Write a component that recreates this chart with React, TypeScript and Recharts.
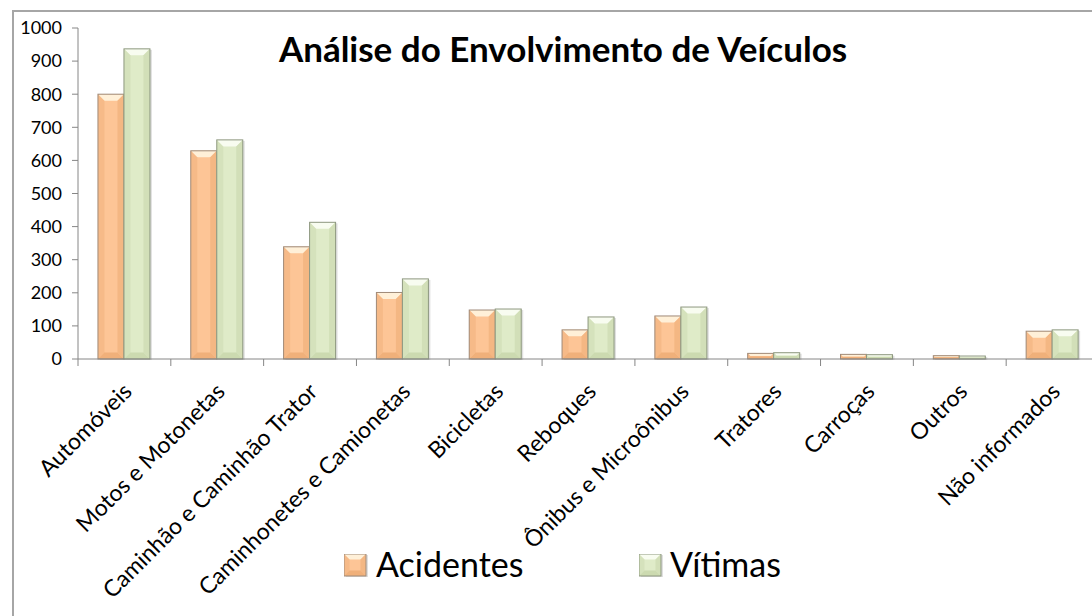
import { Bar, BarChart, Legend, XAxis, YAxis } from "recharts"

const categories = [
  "Automóveis",
  "Motos e Motonetas",
  "Caminhão e Caminhão Trator",
  "Caminhonetes e Camionetas",
  "Bicicletas",
  "Reboques",
  "Ônibus e Microônibus",
  "Tratores",
  "Carroças",
  "Outros",
  "Não informados",
]
const acidentes = [800, 629, 339, 201, 148, 88, 130, 17, 14, 10, 84]
const vitimas = [937, 662, 413, 242, 151, 127, 157, 19, 13, 9, 88]
const yTicks = [0, 100, 200, 300, 400, 500, 600, 700, 800, 900, 1000]

const chartData = categories.map((name, i) => ({
  name,
  acidentes: acidentes[i],
  vitimas: vitimas[i],
}))

const W = 1100
const H = 616
const Y_AXIS_W = 78
const M_RIGHT = 1
const STEP = (W - Y_AXIS_W - M_RIGHT) / categories.length
const FONT = "Lato, 'Open Sans', sans-serif"

const palette: Record<string, { body: string; light: string; dark: string; edge: string }> = {
  acidentes: { body: "#fdc596", light: "#fff0d8", dark: "#f0b07a", edge: "#a08a78" },
  vitimas: { body: "#dfebc8", light: "#f8fcf0", dark: "#ccdab0", edge: "#8e9880" },
}

function bevelParts(x: number, y: number, w: number, h: number, c: typeof palette.acidentes) {
  const b = Math.max(0, Math.min(7, w / 4, h / 2))
  return (
    <g>
      <rect x={x + 2} y={y + 1} width={w} height={h} fill="#000" opacity={0.12} />
      <rect x={x} y={y} width={w} height={h} fill={c.body} />
      <polygon points={`${x},${y} ${x + w},${y} ${x + w - b},${y + b} ${x + b},${y + b}`} fill={c.light} />
      <polygon points={`${x},${y + h} ${x + w},${y + h} ${x + w - b},${y + h - b} ${x + b},${y + h - b}`} fill={c.dark} />
      <polygon points={`${x},${y} ${x + b},${y + b} ${x + b},${y + h - b} ${x},${y + h}`} fill={c.dark} opacity={0.5} />
      <polygon points={`${x + w},${y} ${x + w - b},${y + b} ${x + w - b},${y + h - b} ${x + w},${y + h}`} fill={c.dark} opacity={0.7} />
      <rect x={x} y={y} width={w} height={h} fill="none" stroke={c.edge} strokeWidth={1} />
    </g>
  )
}

function BevelBar(props: any) {
  const { x, y, width, height, dataKey } = props
  if (!height || height <= 0) return null
  return bevelParts(x, y, width, height, palette[dataKey as string])
}

function CategoryTick(props: any) {
  const { x, y, payload } = props
  const bx = x - STEP / 2
  const ax = x + 9
  const ay = y + 34
  return (
    <g>
      <line x1={bx} y1={y} x2={bx} y2={y + 7} stroke="#868686" />
      <text
        x={ax}
        y={ay}
        transform={`rotate(-45, ${ax}, ${ay})`}
        textAnchor="end"
        fontFamily={FONT}
        fontSize={23}
        fill="#000"
      >
        {payload.value}
      </text>
    </g>
  )
}

function LegendContent(props: any) {
  const items = [
    { key: "acidentes", label: "Acidentes", left: 344, textLeft: 376 },
    { key: "vitimas", label: "Vítimas", left: 639, textLeft: 670 },
  ]
  return (
    <div style={{ position: "relative", height: 0 }}>
      {items.map((it) => (
        <div key={it.key}>
          <svg width={26} height={26} style={{ position: "absolute", left: it.left, top: 554 }}>
            {bevelParts(0, 0, 22, 22, palette[it.key])}
          </svg>
          <span
            style={{
              position: "absolute",
              left: it.textLeft,
              top: 544,
              fontFamily: FONT,
              fontSize: 34,
              lineHeight: "40px",
              color: "#000",
              whiteSpace: "nowrap",
            }}
          >
            {(props.payload && props.payload.find((p: any) => p.dataKey === it.key)?.value) || it.label}
          </span>
        </div>
      ))}
    </div>
  )
}

export default function App() {
  return (
    <div
      style={{
        position: "fixed",
        left: 0,
        top: 0,
        width: 1092,
        height: 616,
        overflow: "hidden",
        background: "#fff",
      }}
    >
      <div
        style={{
          position: "absolute",
          left: 12,
          top: 10,
          width: 1120,
          height: 700,
          border: "2px solid #a6a6a6",
        }}
      />
      <div
        style={{
          position: "absolute",
          left: 0,
          width: 1126,
          top: 28,
          textAlign: "center",
          fontFamily: FONT,
          fontWeight: 700,
          fontSize: 35,
          lineHeight: "40px",
          color: "#000",
        }}
      >
        Análise do Envolvimento de Veículos
      </div>
      <div style={{ position: "absolute", left: 0, top: 0 }}>
        <BarChart
          width={W}
          height={H}
          data={chartData}
          margin={{ top: 28, right: M_RIGHT, left: 0, bottom: 0 }}
          barCategoryGap="21.5%"
          barGap={0}
        >
          <XAxis
            dataKey="name"
            interval={0}
            height={257}
            tickSize={0}
            tickMargin={0}
            tickLine={false}
            axisLine={{ stroke: "#868686" }}
            tick={<CategoryTick />}
          />
          <YAxis
            width={Y_AXIS_W}
            domain={[0, 1000]}
            ticks={yTicks}
            interval={0}
            tickSize={6}
            tickMargin={10}
            axisLine={{ stroke: "#868686" }}
            tickLine={{ stroke: "#868686" }}
            tick={{ fontSize: 18, fontFamily: FONT, fill: "#000" }}
          />
          <Legend
            content={<LegendContent />}
            wrapperStyle={{ left: 0, top: 0, width: W, height: 0 }}
          />
          <Bar dataKey="acidentes" name="Acidentes" fill="#fdc596" shape={<BevelBar />} isAnimationActive={false} />
          <Bar dataKey="vitimas" name="Vítimas" fill="#dfebc8" shape={<BevelBar />} isAnimationActive={false} />
        </BarChart>
      </div>
    </div>
  )
}
